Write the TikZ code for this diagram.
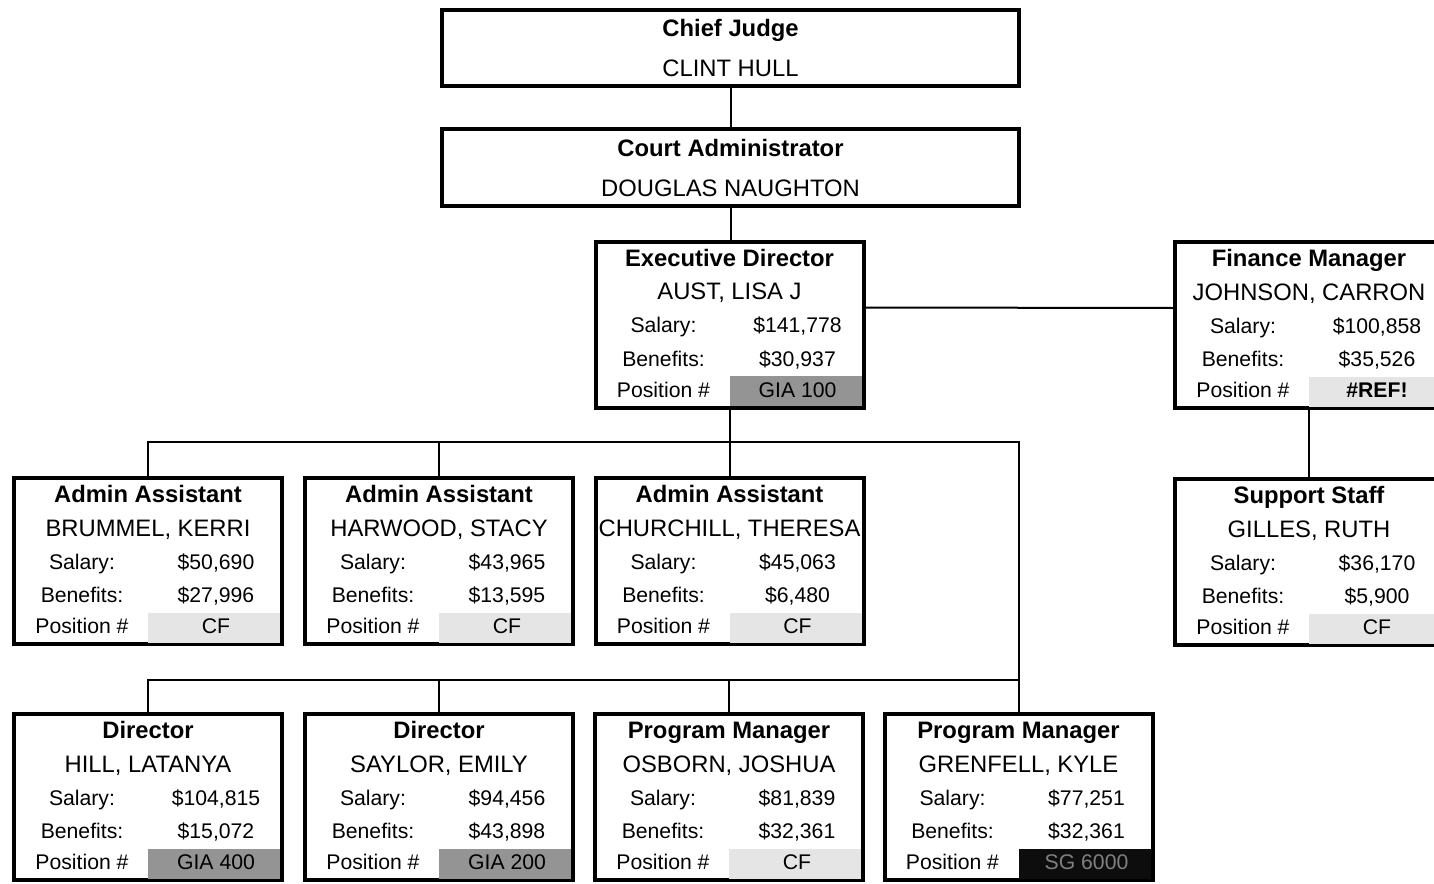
\documentclass[tikz,border=0pt]{standalone}
\usepackage{fontspec}
\setmainfont{Liberation Sans}
\usepackage{array}
\usepackage{colortbl}
\usepackage{tikz}
\definecolor{gia}{gray}{0.58}
\definecolor{cf}{gray}{0.9}
\definecolor{blank}{gray}{0.05}

\newcommand{\titlefont}{\fontsize{11.9}{15}\selectfont\bfseries}
\newcommand{\namefont}{\fontsize{11.9}{15}\selectfont}
\newcommand{\rowstrut}{\rule[-5pt]{0pt}{16.7pt}}
% title, person, salary, benefits, position, field colour
\newcommand{\staffcard}[6]{%
  \setlength{\tabcolsep}{0pt}%
  \begin{tabular}{@{}>{\centering\arraybackslash}p{66pt}@{}>{\centering\arraybackslash}p{66pt}@{}}
    \multicolumn{2}{@{}c@{}}{\titlefont #1\rowstrut}\\
    \multicolumn{2}{@{}c@{}}{\namefont #2\rowstrut}\\
    Salary:\rowstrut & \hspace*{2pt}#3\\
    Benefits:\rowstrut & \hspace*{2pt}#4\\
    Position \# & \cellcolor{#6}\hspace*{2pt}#5
  \end{tabular}}

\begin{document}
\begin{tikzpicture}[x=0.5pt,y=-0.5pt,
	topbox/.style={draw, line width=2pt, inner sep=0pt, minimum width=288.5pt, minimum height=38pt, align=center, font=\fontsize{11.9}{20}\selectfont},
	staff/.style={draw, line width=2pt, inner sep=0pt, minimum width=134pt, minimum height=83pt, font=\fontsize{10.6}{15}\selectfont},
	link/.style={line width=1pt}]
	\useasboundingbox (0,0) rectangle (1434,883);
	\clip (0,0) rectangle (1434,883);
	
	\node[topbox] (hull) at (730.5,48) {{\titlefont Chief Judge}\\CLINT HULL};
	\node[topbox] (naughton) at (730.5,167.5) {{\titlefont Court Administrator}\\DOUGLAS NAUGHTON};
	\node[staff] (aust) at (729.5,324.5) {\staffcard{Executive Director}{AUST, LISA J}{\$141,778}{\$30,937}{GIA 100}{gia}};
	\node[staff] (johnson) at (1309,325) {\staffcard{Finance Manager}{JOHNSON, CARRON}{\$100,858}{\$35,526}{\textbf{\#REF!}}{cf}};
	\node[staff] (gilles) at (1309,562) {\staffcard{Support Staff}{GILLES, RUTH}{\$36,170}{\$5,900}{CF}{cf}};
	
	\node[staff] (brummel) at (148,561) {\staffcard{Admin Assistant}{BRUMMEL, KERRI}{\$50,690}{\$27,996}{CF}{cf}};
	\node[staff] (harwood) at (439,561) {\staffcard{Admin Assistant}{HARWOOD, STACY}{\$43,965}{\$13,595}{CF}{cf}};
	\node[staff] (churchill) at (729.5,561) {\staffcard{Admin Assistant}{CHURCHILL, THERESA}{\$45,063}{\$6,480}{CF}{cf}};
	
	\node[staff] (hill) at (148,797) {\staffcard{Director}{HILL, LATANYA}{\$104,815}{\$15,072}{GIA 400}{gia}};
	\node[staff] (saylor) at (439,797) {\staffcard{Director}{SAYLOR, EMILY}{\$94,456}{\$43,898}{GIA 200}{gia}};
	\node[staff] (osborn) at (729,797) {\staffcard{Program Manager}{OSBORN, JOSHUA}{\$81,839}{\$32,361}{CF}{cf}};
	\node[staff] (grenfell) at (1018.5,797) {\staffcard{Program Manager}{GRENFELL, KYLE}{\$77,251}{\$32,361}{\textcolor{gray}{SG 6000}}{blank}};
	
	\coordinate (bus1) at (729.5,442);
	\coordinate (bus2) at (1018.5,680);
	
	% top of the chart
	\draw[link] (hull.south) -- (naughton.north);
	\draw[link] (naughton.south) -- (naughton.south |- aust.north);
	\draw[link] ([yshift=8.5pt]aust.east) -- ([yshift=8.5pt]johnson.west);
	\draw[link] (johnson.south) -- (gilles.north);
	% admin assistants
	\draw[link] (brummel.north) |- (bus1) -| (grenfell.north);
	\draw[link] (harwood.north) -- (harwood.north |- bus1);
	\draw[link] (aust.south) -- (churchill.north);
	% directors and program managers
	\draw[link] (hill.north) |- (bus2);
	\draw[link] (saylor.north) -- (saylor.north |- bus2);
	\draw[link] (osborn.north) -- (osborn.north |- bus2);
\end{tikzpicture}
\end{document}
